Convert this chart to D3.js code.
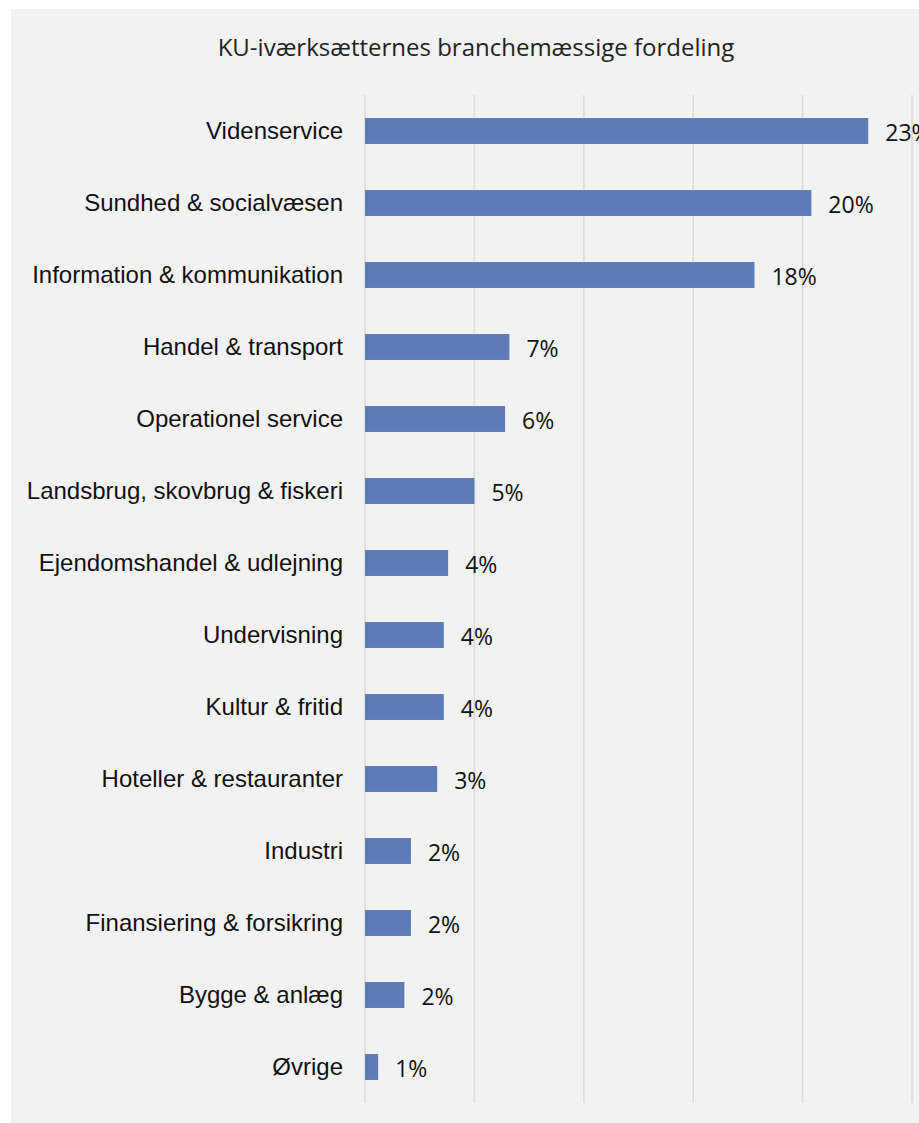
<!DOCTYPE html>
<html>
<head>
<meta charset="utf-8">
<script src="https://cdn.jsdelivr.net/npm/d3@7"></script>
<style>
  body { margin: 0; background: #fff; }
  svg { display: block; }
</style>
</head>
<body>
<svg width="919" height="1123"></svg>
<script>
const categories = [
  "Videnservice", "Sundhed & socialvæsen", "Information & kommunikation",
  "Handel & transport", "Operationel service", "Landsbrug, skovbrug & fiskeri",
  "Ejendomshandel & udlejning", "Undervisning", "Kultur & fritid",
  "Hoteller & restauranter", "Industri", "Finansiering & forsikring",
  "Bygge & anlæg", "Øvrige"
];
const values = [23.0, 20.4, 17.8, 6.6, 6.4, 5.0, 3.8, 3.6, 3.6, 3.3, 2.1, 2.1, 1.8, 0.6];
const ticks = [0, 5, 10, 15, 20, 25];

const svg = d3.select("svg");

// grå baggrund
svg.append("rect")
  .attr("x", 11).attr("y", 9)
  .attr("width", 919).attr("height", 1123)
  .attr("fill", "#f2f2f2");

svg.append("text")
  .attr("x", 476).attr("y", 56)
  .attr("text-anchor", "middle")
  .attr("font-family", "Open Sans")
  .attr("font-size", 24)
  .attr("fill", "#222")
  .text("KU-iværksætternes branchemæssige fordeling");

const x = d3.scaleLinear().domain([0, 25]).range([365, 912]);
const y = d3.scaleBand().domain(categories).range([95, 1103]).paddingInner(0.64).paddingOuter(0.32);

svg.append("g")
  .selectAll("line")
  .data(ticks)
  .join("line")
  .attr("x1", (d) => x(d)).attr("x2", (d) => x(d))
  .attr("y1", 95).attr("y2", 1103)
  .attr("stroke", "#d9d9d9")
  .attr("stroke-width", 1.5);

svg.append("g")
  .selectAll("rect")
  .data(values)
  .join("rect")
  .attr("x", x(0))
  .attr("y", (d, i) => y(categories[i]))
  .attr("width", (d) => x(d) - x(0))
  .attr("height", y.bandwidth())
  .attr("fill", "#5d7bb8");

svg.append("g")
  .selectAll("text")
  .data(categories)
  .join("text")
  .attr("x", 343)
  .attr("y", (d) => y(d) + y.bandwidth() / 2 + 8)
  .attr("text-anchor", "end")
  .attr("font-family", "Liberation Sans, Arial")
  .attr("font-size", 24)
  .attr("fill", "#111")
  .text((d) => d);

svg.append("g")
  .selectAll("text")
  .data(values)
  .join("text")
  .attr("x", (d) => x(d) + 17)
  .attr("y", (d, i) => y(categories[i]) + y.bandwidth() / 2 + 10)
  .attr("font-family", "Open Sans")
  .attr("font-size", 23)
  .attr("fill", "#111")
  .text((d) => Math.round(d) + "%");
</script>
</body>
</html>
